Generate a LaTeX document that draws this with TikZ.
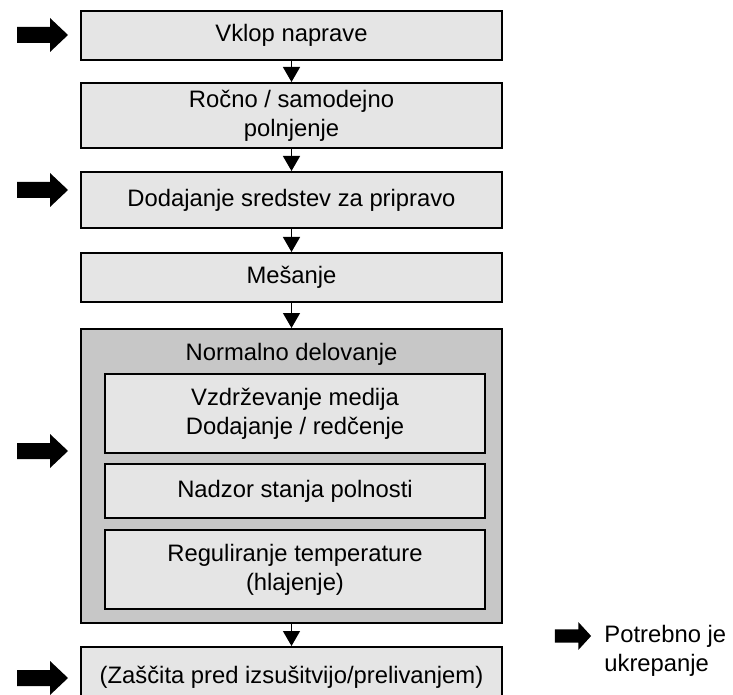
\documentclass[tikz,border=0pt]{standalone}
\usepackage{fontspec}
\setmainfont{Liberation Sans}
\usetikzlibrary{arrows.meta}

\tikzset{fatarrow/.pic={\fill (-25.5,-8) -- (7.5,-8) -- (7.5,-17) -- (25.5,0) -- (7.5,17) -- (7.5,8) -- (-25.5,8) -- cycle;}}

\begin{document}
\begin{tikzpicture}[x=0.5pt,y=-0.5pt]
					\tikzstyle{box}=[rectangle,draw=black,line width=1pt,fill=black!10,minimum width=210.5pt,inner sep=2pt,align=center,font=\fontsize{11.9}{14.6}\selectfont]
					\tikzstyle{link}=[line width=0.7pt,-{Triangle[width=8.5pt,length=7.5pt]}]
					\useasboundingbox (0,0) rectangle (733,695);
					\clip (0,0) rectangle (733,695);
					\node[box,minimum height=24.5pt] (1) at (291.5,35.5) {Vklop naprave};
					\node[box,minimum height=32.5pt] (2) at (291.5,115.5) {Ročno / samodejno\\polnjenje};
					\node[box,minimum height=28pt] (3) at (291.5,200) {Dodajanje sredstev za pripravo};
					\node[box,minimum height=24.5pt] (4) at (291.5,277.5) {Mešanje};
					\node[box,fill=black!22,minimum height=147pt] (5) at (291.5,476) {};
					\node[font=\fontsize{11.9}{14.6}\selectfont,anchor=base] (5t) at (291.5,360) {Normalno delovanje};
					\node[box,minimum width=190pt,minimum height=39.5pt] (5a) at (295,413.5) {Vzdrževanje medija\\Dodajanje / redčenje};
					\node[box,minimum width=190pt,minimum height=27pt] (5b) at (295,491) {Nadzor stanja polnosti};
					\node[box,minimum width=190pt,minimum height=39.5pt] (5c) at (295,569.5) {Reguliranje temperature\\(hlajenje)};
					\node[box,minimum height=30pt] (6) at (291.5,677) {(Zaščita pred izsušitvijo/prelivanjem)};
					\node[font=\fontsize{11.9}{14.6}\selectfont,anchor=west,align=left,inner sep=0pt] (7) at (604,651) {Potrebno je\\ukrepanje};
					\draw[link] (1) -- (2);
					\draw[link] (2) -- (3);
					\draw[link] (3) -- (4);
					\draw[link] (4) -- (5);
					\draw[link] (5) -- (6);
					% action markers
					\pic at (42.5,35) {fatarrow};
					\pic at (42.5,190) {fatarrow};
					\pic at (42.5,451) {fatarrow};
					\pic at (42.5,678) {fatarrow};
					\pic[xscale=0.71,yscale=0.82] at (573,636) {fatarrow};
\end{tikzpicture}
\end{document}
